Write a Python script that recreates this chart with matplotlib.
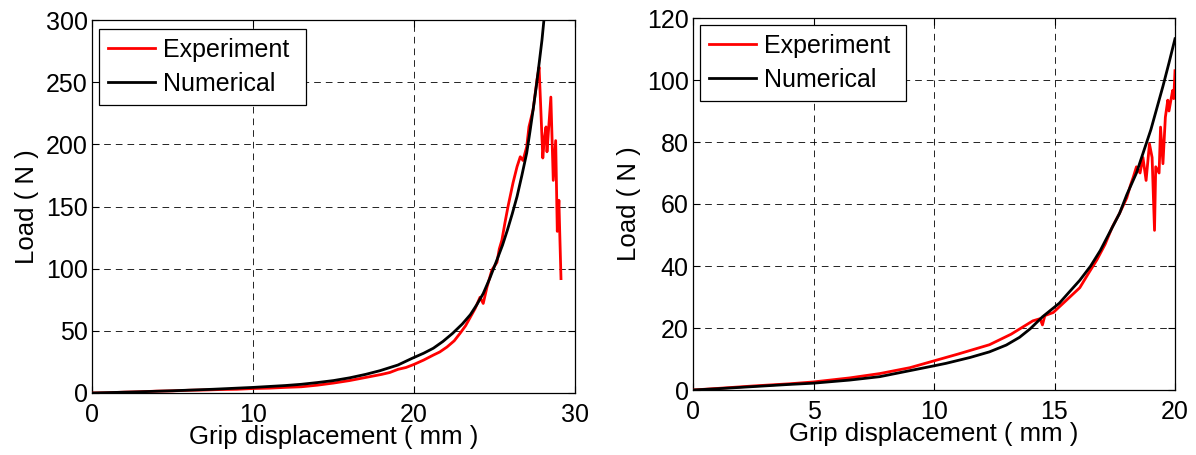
import matplotlib
matplotlib.use("Agg")
import matplotlib.pyplot as plt

plt.rcParams["font.family"] = ["Liberation Sans", "DejaVu Sans"]
plt.rcParams["font.size"] = 18

# ---- left panel: grip displacement (mm) vs load (N)
exp1_x = [0, 1, 2, 3, 4, 5, 6, 7, 8, 9, 10, 11, 12, 13, 14, 15, 16, 17, 18, 18.5,
          19, 19.5, 20, 20.6, 21.2, 21.6, 22.05, 22.5, 22.86, 23.2, 23.5, 23.8,
          24.1, 24.3, 24.53, 24.84, 25.15, 25.3, 25.46, 25.65, 25.84, 26.15, 26.4,
          26.6, 26.77, 27.0, 27.14, 27.4, 27.64, 27.77, 28.0, 28.1, 28.2, 28.26,
          28.5, 28.65, 28.8, 28.9, 29.0, 29.05, 29.13]
exp1_y = [0, 0.2, 0.7, 1.0, 1.5, 1.7, 2.2, 2.4, 2.8, 3.0, 3.6, 3.9, 4.5, 5.0, 6.3,
          8.0, 10.0, 12.5, 15.0, 16.5, 19.0, 20.5, 23.0, 26.5, 30.5, 33.0, 37.0,
          42.0, 48.0, 54.0, 61.0, 68.0, 77.0, 72.0, 85.0, 99.0, 105.0, 116.0,
          123.0, 137.0, 150.0, 169.0, 182.0, 190.0, 187.0, 198.0, 214.0, 228.0,
          252.0, 262.0, 189.0, 205.0, 214.0, 194.0, 238.0, 171.0, 203.0, 130.0,
          155.0, 130.0, 92.0]
num1_x = [0, 2.5, 5, 7.5, 10, 12, 13, 14, 15, 16, 17, 17.9, 19, 19.9, 20.6, 21.2,
          21.8, 22.4, 23.0, 23.5, 23.9, 24.3, 24.7, 25.15, 25.5, 25.8, 26.1, 26.4,
          26.7, 27.0, 27.2, 27.4, 27.6, 27.8, 27.95, 28.07, 28.2]
num1_y = [0, 0.8, 1.8, 3.0, 4.5, 6.0, 7.0, 8.4, 10.0, 12.2, 15.0, 18.0, 22.5,
          28.0, 32.0, 36.0, 41.5, 48.0, 55.5, 63.0, 71.0, 80.0, 92.0, 107.0,
          119.0, 131.0, 144.0, 158.0, 175.0, 193.0, 210.0, 228.0, 247.0, 268.0,
          284.0, 300.0, 318.0]

# ---- right panel
exp2_x = [0, 1, 2.5, 4, 5, 6.5, 7.75, 9, 10, 11, 12.3, 13.2, 14.1, 14.4, 14.5,
          14.6, 14.95, 15.5, 16.05, 16.4, 16.76, 17.1, 17.4, 17.7, 18.0, 18.15,
          18.27, 18.4, 18.55, 18.67, 18.8, 18.94, 19.05, 19.15, 19.2, 19.34, 19.4,
          19.5, 19.6, 19.7, 19.75, 19.9, 19.95, 20.0]
exp2_y = [0, 0.5, 1.3, 2.0, 2.6, 3.9, 5.3, 7.2, 9.4, 11.6, 14.6, 18.0, 22.3,
          23.0, 21.0, 24.0, 25.0, 29.0, 33.0, 37.5, 42.0, 47.0, 52.6, 57.0, 62.0,
          66.0, 68.7, 72.0, 70.0, 75.0, 67.6, 79.4, 75.0, 51.5, 72.0, 70.0, 84.8,
          73.0, 88.0, 93.5, 90.0, 96.6, 94.0, 103.0]
num2_x = [0, 1, 2.5, 4, 5, 6.5, 7.75, 9.1, 10, 10.5, 11.5, 12.3, 13.0, 13.55,
          14.0, 14.5, 15.2, 15.6, 16.05, 16.5, 16.9, 17.3, 17.7, 18.0, 18.4,
          18.7, 19.0, 19.25, 19.5, 19.75, 20.0]
num2_y = [0, 0.4, 1.1, 1.8, 2.2, 3.2, 4.3, 6.4, 7.8, 8.6, 10.5, 12.3, 14.5, 17.0,
          19.8, 23.6, 28.0, 31.5, 35.4, 40.0, 45.0, 51.0, 57.0, 63.0, 70.0,
          77.0, 84.0, 91.0, 98.0, 105.5, 113.3]

AX_POS = [
    [92 / 1196, 1 - 393 / 455, (575 - 92) / 1196, (393 - 20) / 455],
    [693 / 1196, 1 - 390 / 455, (1175 - 693) / 1196, (390 - 18) / 455],
]
# legend box (x0, y0, w, h) in axes fraction
LEGEND_BOX = [
    (7 / 483, 1 - 79 / 373, 207 / 483, 70 / 373),
    (7 / 482, 1 - 78 / 372, 206 / 482, 71 / 372),
]
YLABEL_PAD = [5, 4]

fig = plt.figure(figsize=(11.96, 4.55), dpi=100)

panels = [
    (exp1_x, exp1_y, num1_x, num1_y, (0, 30), (0, 300), [0, 10, 20, 30],
     [0, 50, 100, 150, 200, 250, 300]),
    (exp2_x, exp2_y, num2_x, num2_y, (0, 20), (0, 120), [0, 5, 10, 15, 20],
     [0, 20, 40, 60, 80, 100, 120]),
]

for i, (ex, ey, nx, ny, xl, yl, xt, yt) in enumerate(panels):
    ax = fig.add_axes(AX_POS[i])
    ax.plot(ex, ey, color="#ff0000", lw=2.0, label="Experiment", zorder=3)
    ax.plot(nx, ny, color="black", lw=2.0, label="Numerical", zorder=4)
    ax.set_xlim(*xl)
    ax.set_ylim(*yl)
    ax.set_xticks(xt)
    ax.set_yticks(yt)
    ax.grid(True, color="black", linestyle=(0, (8, 6)), linewidth=0.6)
    ax.tick_params(direction="in", top=True, right=True, length=5, width=0.8,
                   labelsize=18)
    ax.tick_params(axis="x", pad=7)
    ax.tick_params(axis="y", pad=3)
    for s in ax.spines.values():
        s.set_linewidth(0.9)
    ax.set_xlabel("Grip displacement ( mm )", fontsize=18.5, labelpad=-1)
    ax.set_ylabel("Load ( N )", fontsize=18.5, labelpad=YLABEL_PAD[i])
    leg = ax.legend(loc="upper left", bbox_to_anchor=LEGEND_BOX[i],
                    mode="expand", borderaxespad=0, fancybox=False,
                    framealpha=1, edgecolor="black", fontsize=18,
                    handlelength=1.9, borderpad=0.35, labelspacing=0.4,
                    handletextpad=0.3)
    leg.get_frame().set_linewidth(0.9)

fig.savefig("out.png", dpi=100)
